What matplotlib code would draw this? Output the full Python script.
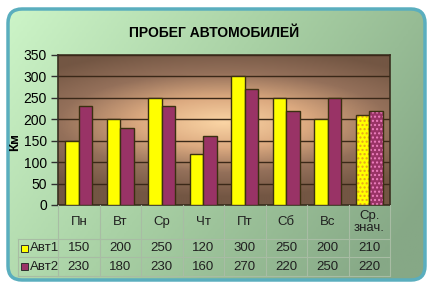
import numpy as np
import matplotlib.pyplot as plt
import matplotlib.patches as mpatches
from matplotlib.colors import LinearSegmentedColormap

plt.rcParams['font.family'] = ['Liberation Sans', 'DejaVu Sans']
plt.rcParams["hatch.linewidth"] = 1.0

TITLE = "ПРОБЕГ АВТОМОБИЛЕЙ"
categories = ["Пн", "Вт", "Ср", "Чт", "Пт", "Сб", "Вс", "Ср.\nзнач."]
series_names = ["Авт1", "Авт2"]
avt1 = [150, 200, 250, 120, 300, 250, 200, 210]
avt2 = [230, 180, 230, 160, 270, 220, 250, 220]
yticks = [0, 50, 100, 150, 200, 250, 300, 350]

W, H = 433, 288
fig = plt.figure(figsize=(W / 100, H / 100), dpi=100)
fig.patch.set_facecolor("white")

# figure background: diagonal green gradient inside rounded frame
bg = fig.add_axes([0, 0, 1, 1], zorder=-10)
bg.set_xlim(0, W)
bg.set_ylim(H, 0)
bg.axis("off")
gx, gy = np.meshgrid(np.linspace(0, 1, 200), np.linspace(0, 1, 140))
t = np.clip(0.75 * gx + 0.35 * gy, 0, 1)
green = LinearSegmentedColormap.from_list("g", ["#cdf5c8", "#a8d0a4", "#86a886"])
img = bg.imshow(t, cmap=green, extent=[6, 427, 282, 7], aspect="auto", vmin=0, vmax=1)
frame = mpatches.FancyBboxPatch((8, 9), 417, 271, boxstyle="round,pad=0,rounding_size=14",
                                fill=False, edgecolor="#5aaebe", linewidth=2.5)
bg.add_patch(frame)
img.set_clip_path(frame)

# main plot area with radial brown gradient
ax = fig.add_axes([58 / W, (H - 205) / H, 332 / W, 150 / H])
ax.set_xlim(-0.5, len(categories) - 0.5)
ax.set_ylim(0, 350)
px, py = np.meshgrid(np.linspace(0, 1, 200), np.linspace(0, 1, 150))
r = np.sqrt(((px - 0.5) / 0.75) ** 2 + ((py - 0.55) / 0.5) ** 2)
brown = LinearSegmentedColormap.from_list("b", ["#fad4a4", "#dcaa80", "#94705a", "#735643"])
ax.imshow(np.clip(r, 0, 1), cmap=brown, extent=[-0.5, len(categories) - 0.5, 0, 350],
          aspect="auto", origin="lower", zorder=0)
ax.set_yticks(yticks)
ax.yaxis.grid(True, color="#3a2818", linewidth=1.0, zorder=1)
ax.set_axisbelow(False)
ax.tick_params(axis="y", length=5, width=1, color="#303030", labelsize=10, pad=3)
ax.tick_params(axis="x", length=0, labelbottom=False)
for s in ax.spines.values():
    s.set_color("#3a3020")
    s.set_linewidth(1.2)
ax.set_ylabel("Км", fontsize=9.5, fontweight="bold", labelpad=2)
ax.yaxis.set_label_coords(-0.11, 0.42)

x = np.arange(len(categories))
bw = 0.33
colors = ["#ffff00", "#993366"]
dots = ["#e8a020", "#f080c0"]
for k, vals in enumerate([avt1, avt2]):
    pos = x + (k - 0.5) * bw
    n = len(vals) - 1
    ax.bar(pos[:n], vals[:n], bw, color=colors[k], edgecolor="#3a3010", linewidth=1, zorder=3)
    # last category: dotted pattern
    ax.bar(pos[n:], vals[n:], bw, color=colors[k], edgecolor=dots[k], hatch="....",
           linewidth=0, zorder=3)
    ax.bar(pos[n:], vals[n:], bw, fill=False, edgecolor="#3a3010", linewidth=1, zorder=4)

fig.text(214 / W, 1 - 33 / H, TITLE, ha="center", va="center", fontsize=10, fontweight="bold")

# data table below the plot
tb = fig.add_axes([58 / W, (H - 276) / H, 332 / W, 71 / H])
tb.set_xlim(-0.5, len(categories) - 0.5)
tb.set_ylim(71, 0)
tb.axis("off")
line_c = "#a8bca4"
label_left = -0.5 - 40 / 41.5
rows_y = [0, 34, 52, 71]
for xb in np.arange(len(categories) + 1) - 0.5:
    tb.plot([xb, xb], [0, 71], color=line_c, lw=0.8, clip_on=False)
tb.plot([label_left, label_left], [34, 71], color=line_c, lw=0.8, clip_on=False)
for yb in rows_y[1:]:
    tb.plot([label_left, len(categories) - 0.5], [yb, yb], color=line_c, lw=0.8, clip_on=False)
for i, c in enumerate(categories):
    tb.text(i, 17, c, ha="center", va="center", fontsize=9.5, color="#202020", linespacing=0.95)
for k, (name, vals) in enumerate(zip(series_names, [avt1, avt2])):
    yc = (rows_y[k + 1] + rows_y[k + 2]) / 2
    for i, v in enumerate(vals):
        tb.text(i, yc, str(v), ha="center", va="center", fontsize=9.5, color="#202020")
    tb.add_patch(mpatches.Rectangle((label_left + 0.08, yc - 3.5), 0.17, 7, facecolor=colors[k],
                                    edgecolor="#303030", lw=0.7, clip_on=False))
    tb.text(label_left + 0.28, yc, name, ha="left", va="center", fontsize=9.5, color="#202020")

fig.savefig("out.png", dpi=100)
